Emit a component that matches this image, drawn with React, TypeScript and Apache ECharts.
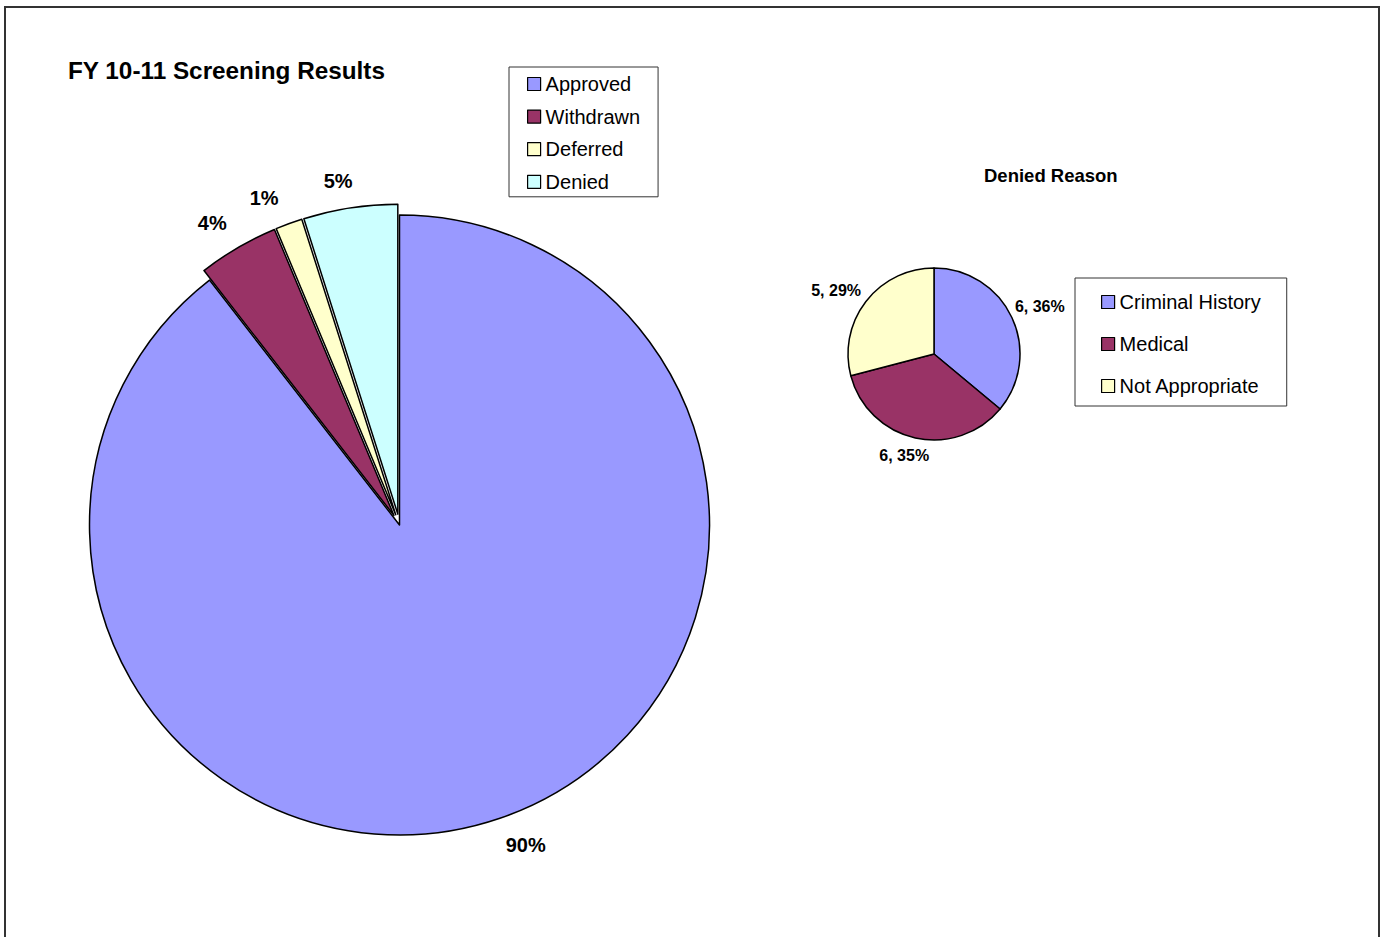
import React, { useEffect, useRef } from "react";
import * as echarts from "echarts";

const mainCategories = ["Approved", "Withdrawn", "Deferred", "Denied"];
const mainValues = [895, 42, 14, 49];
const mainColors = ["#9999FF", "#993366", "#FFFFCC", "#CCFFFF"];
const mainExploded = [false, true, true, true];

const reasonCategories = ["Criminal History", "Medical", "Not Appropriate"];
const reasonValues = [6.2, 6.0, 5.0];
const reasonColors = ["#9999FF", "#993366", "#FFFFCC"];

// small label position nudges (style only) [dx, dy]
const mainLabelNudge = [[-4, -2], [1, -4], [-2, -3], [6, -3]];
const reasonLabelNudge = [[-6, -7], [16, 8], [3, -5]];

const FONT = '"Liberation Sans", Arial, Helvetica, sans-serif';

export default function App() {
  const ref = useRef<HTMLDivElement>(null);

  useEffect(() => {
    if (!ref.current) return;
    const chart = echarts.init(ref.current, null, { renderer: "svg" });

    const mainData = mainCategories.map((name, i) => ({
      name,
      value: mainValues[i],
      selected: mainExploded[i],
      itemStyle: { color: mainColors[i] },
      labelLine: { show: false, length: mainExploded[i] ? 24 : 30, length2: 0 },
    }));

    const reasonData = reasonCategories.map((name, i) => ({
      name,
      value: reasonValues[i],
      itemStyle: { color: reasonColors[i] },
    }));

    const legendCommon = {
      orient: "vertical" as const,
      icon: "rect",
      itemWidth: 13,
      itemHeight: 13,
      backgroundColor: "#fff",
      borderColor: "#333",
      borderWidth: 1,
      borderRadius: 0,
      selectedMode: false,
      itemStyle: { borderColor: "#000", borderWidth: 1.2 },
      textStyle: { fontFamily: FONT, fontSize: 20, color: "#000", lineHeight: 20, padding: [0, 0, 0, 0] },
    };

    const nudge = (table: number[][]) => (params: any) => {
      const n = table[params.dataIndex] || [0, 0];
      return { dx: n[0], dy: n[1] };
    };

    chart.setOption({
      animation: false,
      backgroundColor: "#fff",
      title: [
        {
          text: "FY 10-11 Screening Results",
          left: 68,
          top: 58,
          padding: 0,
          textStyle: { fontFamily: FONT, fontSize: 24.3, fontWeight: "bold", color: "#000" },
        },
        {
          text: "Denied Reason",
          left: 984,
          top: 166,
          padding: 0,
          textStyle: { fontFamily: FONT, fontSize: 18.5, fontWeight: "bold", color: "#000" },
        },
      ],
      legend: [
        {
          ...legendCommon,
          data: mainCategories,
          left: 509,
          top: 67,
          itemGap: 12.6,
          padding: [7, 18, 5, 18],
        },
        {
          ...legendCommon,
          data: reasonCategories,
          left: 1075,
          top: 278,
          itemGap: 22,
          padding: [14, 26, 10, 26],
        },
      ],
      graphic: [
        {
          type: "rect",
          shape: { x: 5, y: 7, width: 1374, height: 1000 },
          style: { fill: "none", stroke: "#333", lineWidth: 2 },
          silent: true,
        },
      ],
      series: [
        {
          type: "pie",
          name: "Screening",
          center: [399.5, 525],
          radius: [0, 310],
          startAngle: 90,
          clockwise: true,
          selectedMode: "multiple",
          selectedOffset: 11,
          avoidLabelOverlap: false,
          itemStyle: { borderColor: "#000", borderWidth: 1.5 },
          select: { itemStyle: { borderColor: "#000", borderWidth: 1.5 } },
          label: {
            show: true,
            position: "outside",
            fontFamily: FONT,
            fontSize: 20,
            fontWeight: "bold",
            color: "#000",
            distanceToLabelLine: 0,
            formatter: (p: any) => Math.round(p.percent) + "%",
          },
          labelLine: { show: false, length: 30, length2: 0 },
          labelLayout: nudge(mainLabelNudge),
          emphasis: { disabled: true },
          data: mainData,
        },
        {
          type: "pie",
          name: "Denied Reason",
          center: [934, 354],
          radius: [0, 86],
          startAngle: 90,
          clockwise: true,
          avoidLabelOverlap: false,
          selectedMode: false,
          itemStyle: { borderColor: "#000", borderWidth: 1.5 },
          label: {
            show: true,
            position: "outside",
            fontFamily: FONT,
            fontSize: 16,
            fontWeight: "bold",
            color: "#000",
            distanceToLabelLine: 0,
            formatter: (p: any) => Math.round(p.value) + ", " + Math.round(p.percent) + "%",
          },
          labelLine: { show: false, length: 10, length2: 0 },
          labelLayout: nudge(reasonLabelNudge),
          emphasis: { disabled: true },
          data: reasonData,
        },
      ],
    });

    return () => chart.dispose();
  }, []);

  return (
    <div
      ref={ref}
      style={{ position: "absolute", left: 0, top: 0, width: 1383, height: 937 }}
    />
  );
}
